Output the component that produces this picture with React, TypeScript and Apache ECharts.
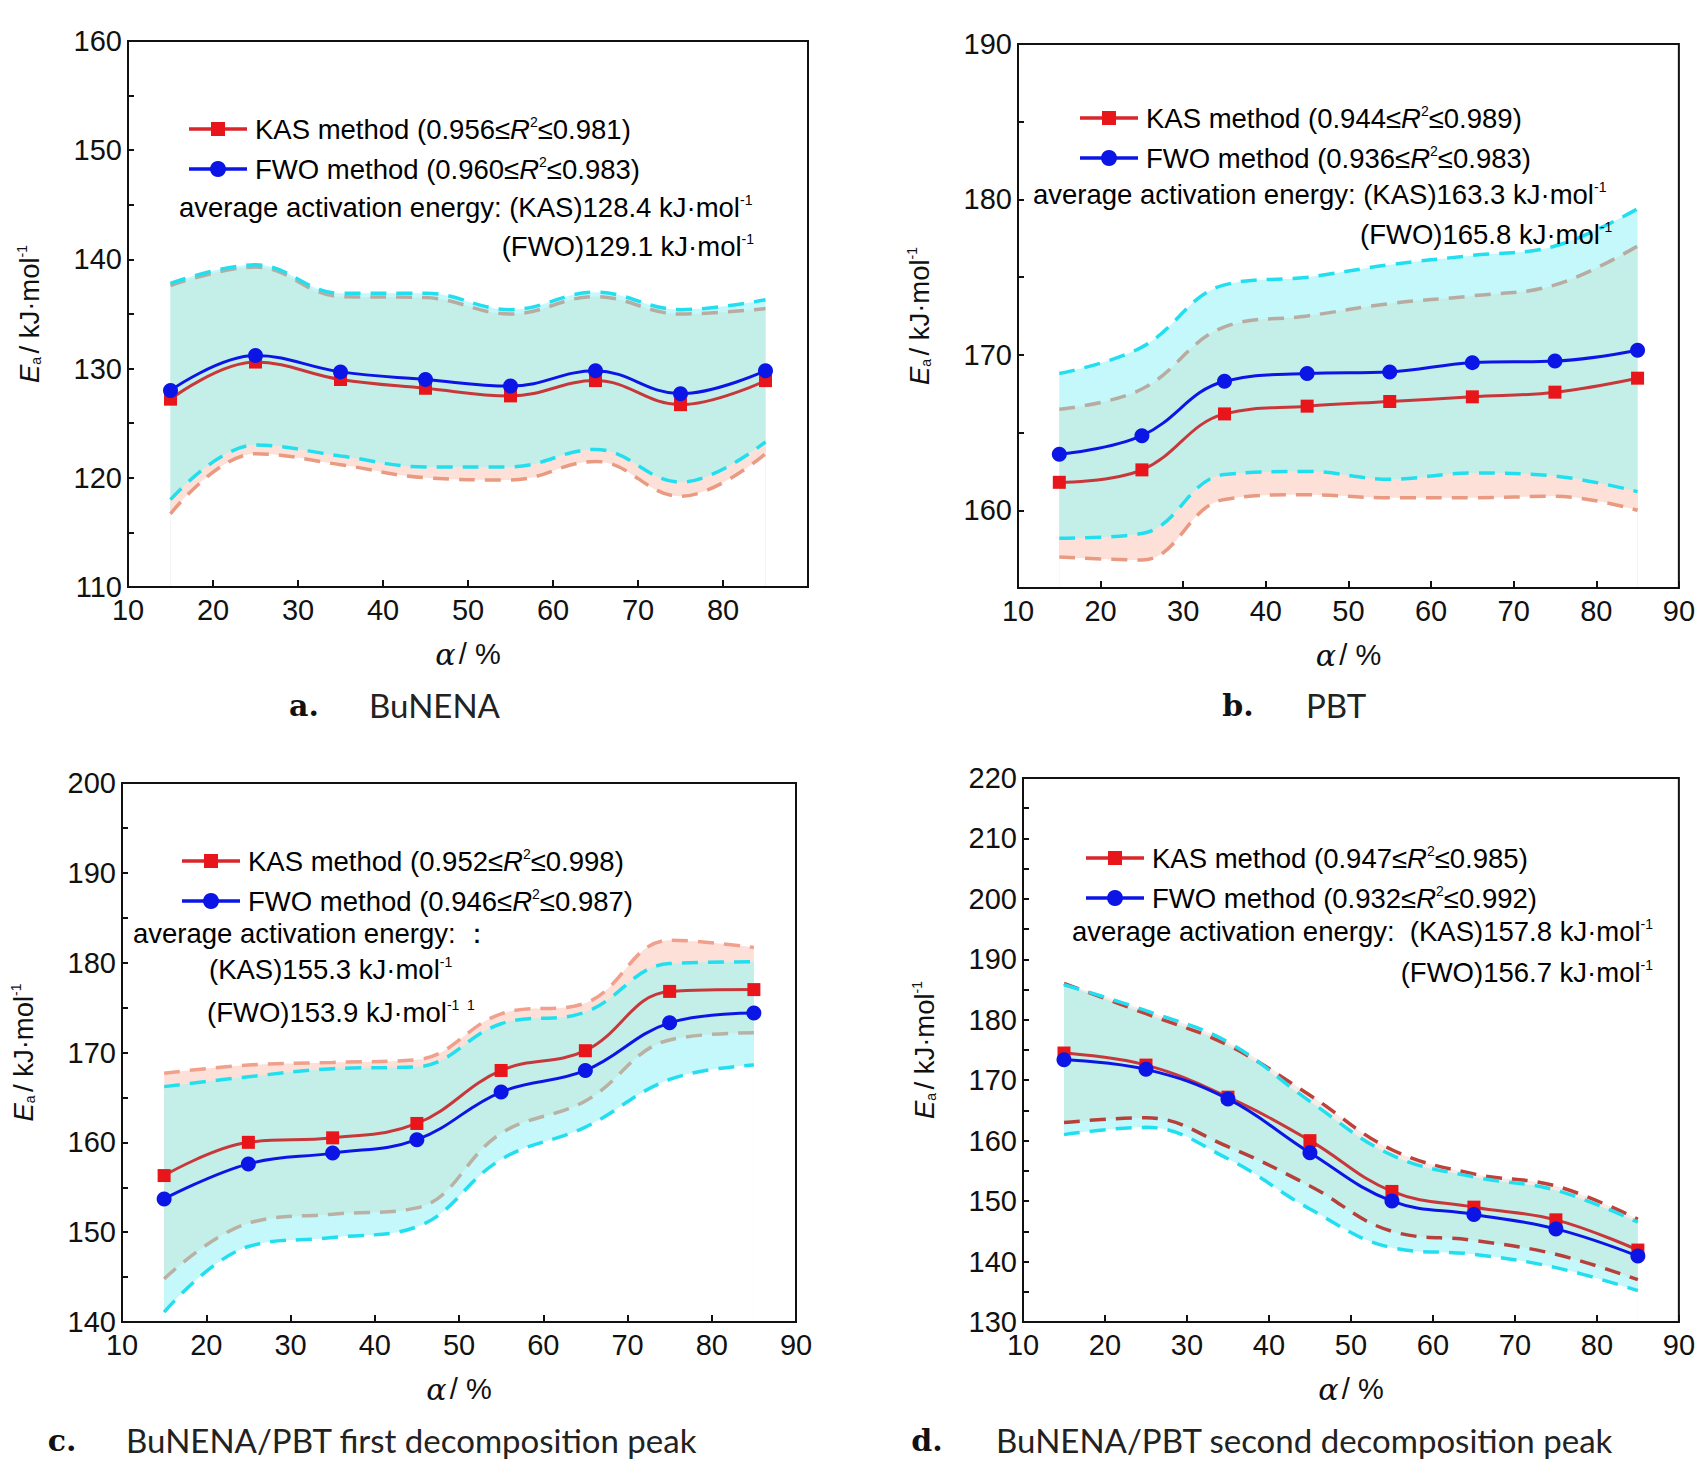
import React, { useEffect, useRef } from 'react';
import * as echarts from 'echarts';

const alpha = [15, 25, 35, 45, 55, 65, 75, 85];

// a. BuNENA
const aKas = [127.2, 130.6, 129.0, 128.2, 127.5, 128.9, 126.7, 128.9];
const aFwo = [128.0, 131.2, 129.7, 129.0, 128.4, 129.8, 127.7, 129.8];
const aKasUp = [137.6, 139.3, 136.6, 136.5, 135.0, 136.6, 135.0, 135.5];
const aKasLow = [116.7, 122.2, 121.2, 120.0, 119.8, 121.5, 118.3, 122.2];
const aFwoUp = [137.8, 139.5, 136.9, 136.9, 135.4, 137.0, 135.4, 136.3];
const aFwoLow = [118.0, 123.0, 122.0, 121.0, 121.0, 122.6, 119.6, 123.3];

// b. PBT
const bKas = [161.8, 162.6, 166.2, 166.7, 167.0, 167.3, 167.6, 168.5];
const bFwo = [163.6, 164.8, 168.3, 168.8, 168.9, 169.5, 169.6, 170.3];
const bKasUp = [166.5, 167.8, 171.8, 172.5, 173.3, 173.8, 174.5, 177.0];
const bKasLow = [157.0, 156.8, 160.7, 161.0, 160.8, 160.8, 160.9, 160.0];
const bFwoUp = [168.8, 170.5, 174.5, 175.0, 175.8, 176.4, 177.0, 179.4];
const bFwoLow = [158.2, 158.5, 162.3, 162.5, 162.0, 162.4, 162.2, 161.2];

// c. first decomposition peak
const cKas = [156.3, 160.0, 160.5, 162.1, 168.0, 170.2, 176.8, 177.0];
const cFwo = [153.7, 157.6, 158.8, 160.3, 165.6, 168.0, 173.3, 174.4];
const cKasUp = [167.7, 168.6, 168.9, 169.2, 174.3, 175.5, 182.5, 181.7];
const cKasLow = [144.8, 151.0, 152.0, 152.7, 161.0, 164.6, 171.4, 172.2];
const cFwoUp = [166.2, 167.3, 168.2, 168.4, 173.2, 174.5, 179.9, 180.1];
const cFwoLow = [141.1, 148.4, 149.4, 150.6, 158.1, 161.7, 167.0, 168.6];

// d. second decomposition peak
const dKas = [174.5, 172.5, 167.2, 160.0, 151.6, 149.0, 146.9, 141.9];
const dFwo = [173.4, 171.8, 166.9, 158.0, 150.0, 147.8, 145.4, 140.9];
const dKasUp = [186.0, 181.0, 175.8, 167.5, 158.5, 154.5, 152.5, 147.0];
const dKasLow = [163.0, 163.8, 159.0, 152.5, 145.0, 143.5, 141.2, 137.0];
const dFwoUp = [185.8, 181.5, 176.3, 166.5, 157.6, 154.0, 151.8, 146.5];
const dFwoLow = [161.0, 162.2, 157.0, 148.7, 142.3, 141.2, 139.0, 135.2];

const legendKas = ['0.956', '0.981', '0.944', '0.989', '0.952', '0.998', '0.947', '0.985'];
const legendFwo = ['0.960', '0.983', '0.936', '0.983', '0.946', '0.987', '0.932', '0.992'];
const avgKas = ['128.4', '163.3', '155.3', '157.8'];
const avgFwo = ['129.1', '165.8', '153.9', '156.7'];
const captions = [
  ['a.', 'BuNENA'],
  ['b.', 'PBT'],
  ['c.', 'BuNENA/PBT first decomposition peak'],
  ['d.', 'BuNENA/PBT second decomposition peak'],
];

const FONT = '"Liberation Sans Narrow", "Liberation Sans", Arial, sans-serif';
const CAP_FONT = 'Lato, "Noto Sans", sans-serif';
const PINK = '#fde1d8';
const CYAN = '#c4f8fb';
const TEAL = '#c4eee8';

const panels = [
  { kas: aKas, fwo: aFwo, kasUp: aKasUp, kasLow: aKasLow, fwoUp: aFwoUp, fwoLow: aFwoLow,
    ymin: 110, ymax: 160, upCol: '#b8aca2', lowCol: '#e99a80', hideX90: true, topFill: CYAN, lowFill: PINK,
    grid: { left: 120, top: 33, width: 680, height: 546 } },
  { kas: bKas, fwo: bFwo, kasUp: bKasUp, kasLow: bKasLow, fwoUp: bFwoUp, fwoLow: bFwoLow,
    ymin: 155, ymax: 190, upCol: '#b8aca2', lowCol: '#e99a80', hideX90: false, topFill: CYAN, lowFill: PINK,
    grid: { left: 1010, top: 36, width: 676, height: 544 } },
  { kas: cKas, fwo: cFwo, kasUp: cKasUp, kasLow: cKasLow, fwoUp: cFwoUp, fwoLow: cFwoLow,
    ymin: 140, ymax: 200, upCol: '#f0a08c', lowCol: '#bbb0a4', hideX90: false, topFill: PINK, lowFill: CYAN,
    grid: { left: 107, top: 775, width: 681, height: 539 } },
  { kas: dKas, fwo: dFwo, kasUp: dKasUp, kasLow: dKasLow, fwoUp: dFwoUp, fwoLow: dFwoLow,
    ymin: 130, ymax: 220, upCol: '#c0403a', lowCol: '#b8403a', hideX90: false, topFill: '#f6ebe6', lowFill: CYAN,
    grid: { left: 1015, top: 770, width: 674, height: 544 } },
];

// legend / annotation placement per panel
const notes = [
  { lx: 181, ly: 121, ax: 171, ay: 199, fx: 746, fy: 238, split: false },
  { lx: 1072, ly: 110, ax: 1025, ay: 186, fx: 1352, fy: 226, split: false, fLeft: true },
  { lx: 174, ly: 853, ax: 125, ay: 925, fx: 199, fy: 1004, split: true },
  { lx: 1078, ly: 850, ax: 1064, ay: 923, fx: 1645, fy: 964, split: false },
];
const capPos = [
  { x: 296, tx: 361, y: 697 },
  { x: 1230, tx: 1298, y: 697 },
  { x: 54, tx: 118, y: 1432 },
  { x: 919, tx: 988, y: 1432 },
];

const FS = 27.5;
const rich = {
  n: { fontFamily: FONT, fontSize: FS, color: '#111' },
  i: { fontFamily: FONT, fontSize: FS, color: '#111', fontStyle: 'italic' },
  sup: { fontFamily: FONT, fontSize: 14, color: '#111', padding: [0, 0, 15, 0] },
};

const pair = (a: number[], b: number[], f: (x: number, y: number) => number) => a.map((v, i) => f(v, b[i]));

// area from the curve down to the axis minimum, painted in order (later covers earlier)
function fillUnder(g: number, vals: number[], color: string) {
  return { type: 'line', xAxisIndex: g, yAxisIndex: g, smooth: 0.4, symbol: 'none', z: 1,
    lineStyle: { opacity: 0 }, areaStyle: { color, opacity: 1, origin: 'start' },
    data: alpha.map((x, i) => [x, vals[i]]) };
}

function dashed(g: number, vals: number[], color: string) {
  return { type: 'line', xAxisIndex: g, yAxisIndex: g, smooth: 0.4, symbol: 'none', z: 3,
    lineStyle: { color, width: 3.5, type: [16, 10] }, data: alpha.map((x, i) => [x, vals[i]]) };
}

export default function App() {
  const ref = useRef<HTMLDivElement>(null);

  useEffect(() => {
    if (!ref.current) return;
    const chart = echarts.init(ref.current, null, { renderer: 'svg' });

    const series: any[] = [];
    const graphic: any[] = [];
    panels.forEach((p, g) => {
      series.push(fillUnder(g, pair(p.kasUp, p.fwoUp, Math.max), p.topFill));
      series.push(fillUnder(g, pair(p.kasUp, p.fwoUp, Math.min), TEAL));
      series.push(fillUnder(g, pair(p.kasLow, p.fwoLow, Math.max), p.lowFill));
      series.push(fillUnder(g, pair(p.kasLow, p.fwoLow, Math.min), '#ffffff'));
      series.push(dashed(g, p.kasUp, p.upCol), dashed(g, p.kasLow, p.lowCol));
      series.push(dashed(g, p.fwoUp, '#22dff0'), dashed(g, p.fwoLow, '#22dff0'));
      series.push({ type: 'line', xAxisIndex: g, yAxisIndex: g, smooth: 0.4, z: 5,
        symbol: 'rect', symbolSize: 13, itemStyle: { color: '#e8151b' },
        lineStyle: { color: '#c8383a', width: 3 }, data: alpha.map((x, i) => [x, p.kas[i]]) });
      series.push({ type: 'line', xAxisIndex: g, yAxisIndex: g, smooth: 0.4, z: 6,
        symbol: 'circle', symbolSize: 15, itemStyle: { color: '#0b16e6' },
        lineStyle: { color: '#0b16e6', width: 3 }, data: alpha.map((x, i) => [x, p.fwo[i]]) });

      const n = notes[g];
      const rows = [
        { y: n.ly, col: '#d8262a', sym: 'rect', label: 'KAS method', lo: legendKas[2 * g], hi: legendKas[2 * g + 1] },
        { y: n.ly + 40, col: '#0b16e6', sym: 'circle', label: 'FWO method', lo: legendFwo[2 * g], hi: legendFwo[2 * g + 1] },
      ];
      rows.forEach((r) => {
        graphic.push({ type: 'line', shape: { x1: n.lx, y1: r.y, x2: n.lx + 58, y2: r.y },
          style: { stroke: r.col, lineWidth: 3.5 }, z: 20 });
        graphic.push(r.sym === 'rect'
          ? { type: 'rect', shape: { x: n.lx + 22, y: r.y - 7, width: 14, height: 14 }, style: { fill: '#e8151b' }, z: 21 }
          : { type: 'circle', shape: { cx: n.lx + 29, cy: r.y, r: 8 }, style: { fill: r.col }, z: 21 });
        graphic.push({ type: 'text', x: n.lx + 66, y: r.y, z: 21,
          style: { text: `{n|${r.label} (${r.lo}≤}{i|R}{sup|2}{n|≤${r.hi})}`, rich, verticalAlign: 'middle' } });
      });
      if (n.split) {
        graphic.push({ type: 'text', x: n.ax, y: n.ay, z: 21,
          style: { text: '{n|average activation energy: ：}', rich, verticalAlign: 'middle' } });
        graphic.push({ type: 'text', x: n.ax + 76, y: n.ay + 36, z: 21,
          style: { text: `{n|(KAS)${avgKas[g]} kJ·mol}{sup|-1}`, rich, verticalAlign: 'middle' } });
        graphic.push({ type: 'text', x: n.fx, y: n.fy, z: 21,
          style: { text: `{n|(FWO)${avgFwo[g]} kJ·mol}{sup|-1  1}`, rich, verticalAlign: 'middle' } });
      } else {
        graphic.push({ type: 'text', x: n.ax, y: n.ay, z: 21,
          style: { text: `{n|average activation energy: ${g === 3 ? ' ' : ''}(KAS)${avgKas[g]} kJ·mol}{sup|-1}`, rich, verticalAlign: 'middle' } });
        graphic.push({ type: 'text', x: n.fx, y: n.fy, z: 21,
          style: { text: `{n|(FWO)${avgFwo[g]} kJ·mol}{sup|-1}`, rich, verticalAlign: 'middle',
            align: (n as any).fLeft ? 'left' : 'right' } });
      }
      const c = capPos[g];
      graphic.push({ type: 'text', x: c.x, y: c.y, z: 21, style: { text: captions[g][0], fontFamily: '"DejaVu Serif", serif',
        fontWeight: 'bold', fontSize: 30, fill: '#111', align: 'center', verticalAlign: 'middle' } });
      graphic.push({ type: 'text', x: c.tx, y: c.y, z: 21, style: { text: captions[g][1], fontFamily: CAP_FONT,
        fontSize: 33, fill: '#222', verticalAlign: 'middle' } });
    });

    const axisLabel = { fontFamily: FONT, fontSize: 29, color: '#111' };
    chart.setOption({
      animation: false,
      backgroundColor: '#fff',
      grid: panels.map((p) => ({ ...p.grid, show: true, borderColor: '#111', borderWidth: 2, backgroundColor: 'transparent', z: 10 })),
      xAxis: panels.map((p, g) => ({
        type: 'value', gridIndex: g, min: 10, max: 90, interval: 10, z: 10,
        name: '{a|α} {b|/ %}', nameLocation: 'middle', nameGap: 52,
        nameTextStyle: { rich: { a: { ...axisLabel, fontStyle: 'italic', fontFamily: '"DejaVu Serif", serif', fontSize: 30 }, b: axisLabel } },
        axisLine: { lineStyle: { color: '#111', width: 2 } },
        axisTick: { inside: true, length: 7, lineStyle: { color: '#111', width: 2 } },
        splitLine: { show: false },
        axisLabel: { ...axisLabel, margin: 8, formatter: (v: number) => (p.hideX90 && v === 90 ? '' : String(v)) },
      })),
      yAxis: panels.map((p, g) => ({
        type: 'value', gridIndex: g, min: p.ymin, max: p.ymax, interval: 5, z: 10,
        name: '{i|E}{s|a} {n|/ kJ·mol}{sup|-1}', nameLocation: 'middle', nameGap: 84, nameRotate: 90,
        nameTextStyle: { rich: { ...rich, s: { fontFamily: FONT, fontSize: 14, color: '#111', padding: [12, 0, 0, 0] } } },
        axisLine: { lineStyle: { color: '#111', width: 2 } },
        axisTick: { inside: true, length: 6, lineStyle: { color: '#111', width: 2 } },
        splitLine: { show: false },
        axisLabel: { ...axisLabel, margin: 6, showMinLabel: true, formatter: (v: number) => (v % 10 === 0 ? String(v) : '') },
      })),
      series,
      graphic,
    });

    return () => chart.dispose();
  }, []);

  return <div ref={ref} style={{ width: 1690, height: 1460 }} />;
}
